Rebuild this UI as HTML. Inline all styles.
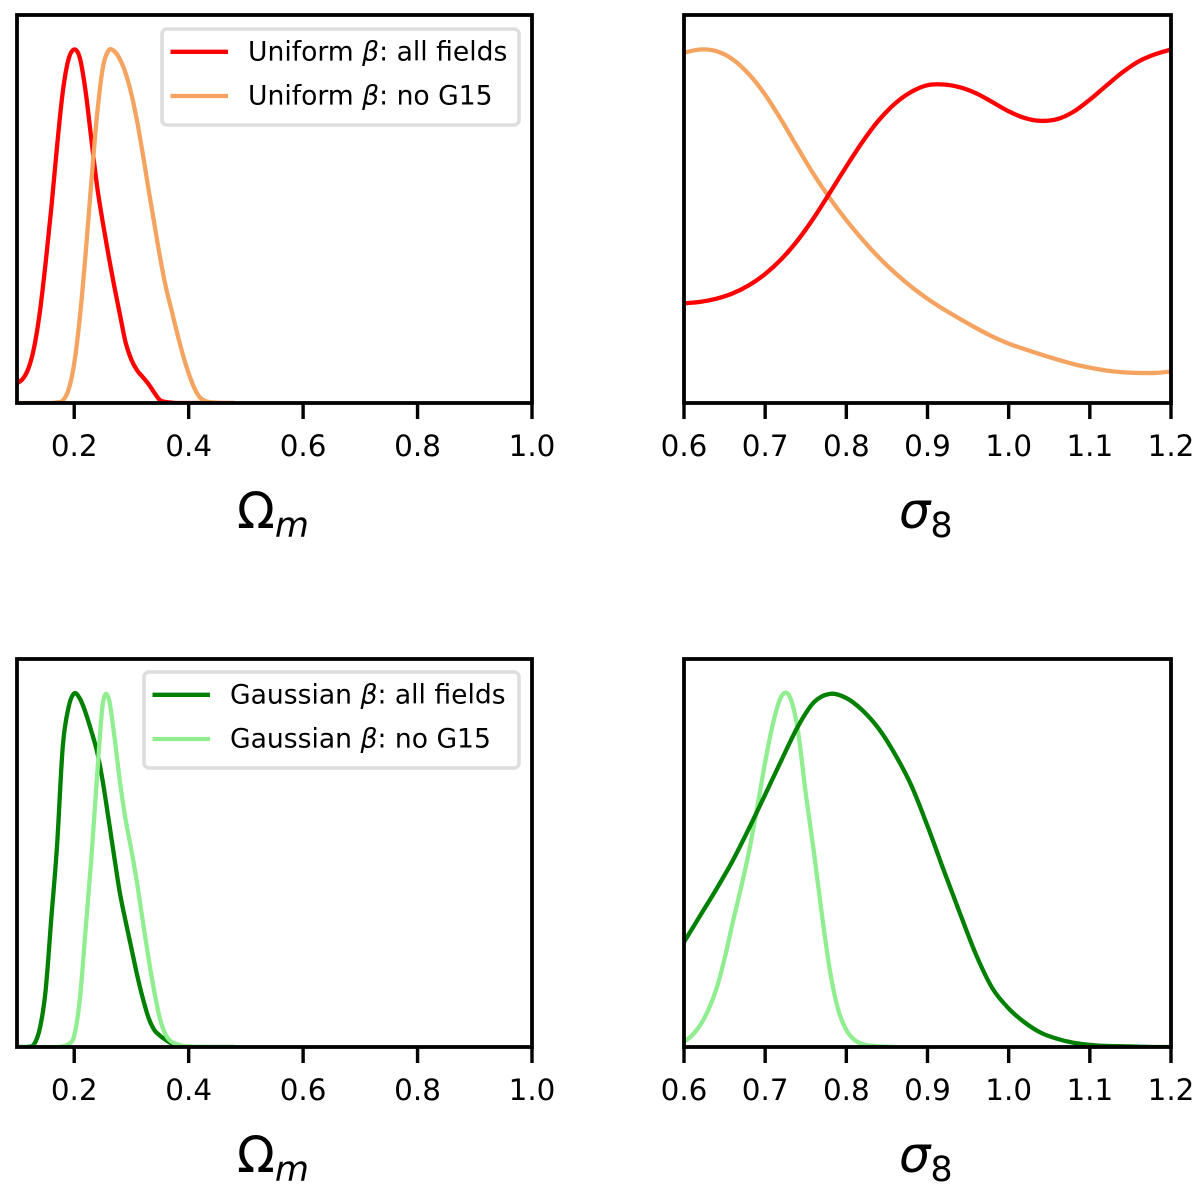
<!DOCTYPE html>
<html lang="en">
<head>
<meta charset="utf-8">
<title>Posterior distributions</title>
<style>
html,body{margin:0;padding:0;background:#fff;}
svg{display:block;}
text{font-family:"DejaVu Sans","Liberation Sans",sans-serif;fill:#000;}
.tick{font-size:29.4px;text-anchor:middle;}
.leg{font-size:26.6px;}
.ax{font-size:49.5px;}
.it{font-style:italic;}
</style>
</head>
<body>
<svg id="fig" xmlns="http://www.w3.org/2000/svg" width="1200" height="1184" viewBox="0 0 1200 1184">
  <rect width="1200" height="1184" fill="#fff"/>
  <text class="ax" x="237" y="528">Ω<tspan class="it" font-size="35" dy="9">m</tspan></text>
  <text class="ax" x="899" y="528"><tspan class="it">σ</tspan><tspan font-size="35" dy="9">8</tspan></text>
  <text class="ax" x="237" y="1172">Ω<tspan class="it" font-size="35" dy="9">m</tspan></text>
  <text class="ax" x="899" y="1172"><tspan class="it">σ</tspan><tspan font-size="35" dy="9">8</tspan></text>
</svg>
<script>
// ---- Data (x grids and normalised densities) ----
const omegaGrid = [0.10,0.11,0.12,0.13,0.14,0.15,0.16,0.17,0.18,0.19,0.20,0.21,0.22,0.23,0.24,0.25,0.26,0.27,0.28,0.29,0.30,0.31,0.32,0.33,0.34,0.35,0.36,0.37,0.38,0.39,0.40,0.41,0.42,0.43,0.44,0.45,0.46,0.47,0.48];
const sigmaGrid = [0.60,0.62,0.64,0.66,0.68,0.70,0.72,0.74,0.76,0.78,0.80,0.82,0.84,0.86,0.88,0.90,0.92,0.94,0.96,0.98,1.00,1.02,1.04,1.06,1.08,1.10,1.12,1.14,1.16,1.18,1.20];
const sigmaFineGrid = [0.60,0.61,0.62,0.63,0.64,0.65,0.66,0.67,0.68,0.69,0.70,0.71,0.72,0.73,0.74,0.75,0.76,0.77,0.78,0.79,0.80,0.81,0.82,0.83,0.84,0.85,0.86];

const uniformAllOmega = [0.056,0.068,0.098,0.158,0.258,0.396,0.552,0.726,0.880,0.972,1.000,0.975,0.880,0.745,0.613,0.510,0.417,0.330,0.249,0.170,0.122,0.092,0.073,0.053,0.029,0.008,0.003,0.001,0,0,0,0,0,0,0,0,0,0,0];
const uniformNoG15Omega = [0,0,0,0,0,0,0,0.002,0.007,0.037,0.112,0.245,0.424,0.627,0.816,0.948,0.997,0.995,0.972,0.932,0.873,0.796,0.703,0.603,0.507,0.412,0.329,0.263,0.197,0.136,0.084,0.042,0.015,0.005,0.002,0.001,0,0,0];
const gaussAllOmega = [0,0,0.001,0.008,0.053,0.160,0.365,0.570,0.850,0.960,1.000,0.985,0.945,0.893,0.835,0.750,0.645,0.537,0.434,0.354,0.279,0.203,0.137,0.082,0.048,0.032,0.020,0.010,0.005,0.002,0.001,0.001,0,0,0,0,0,0,0];
const gaussNoG15Omega = [0,0,0,0,0,0,0,0,0.002,0.008,0.032,0.138,0.335,0.535,0.768,0.971,0.987,0.881,0.749,0.641,0.556,0.462,0.354,0.250,0.156,0.079,0.034,0.015,0.008,0.003,0.002,0.001,0.001,0,0,0,0,0,0];

const uniformAllSigma = [0.282,0.286,0.295,0.310,0.333,0.365,0.407,0.460,0.524,0.596,0.669,0.739,0.800,0.847,0.880,0.899,0.901,0.893,0.876,0.851,0.825,0.806,0.798,0.803,0.824,0.858,0.897,0.935,0.966,0.986,1.000];
const uniformNoG15Sigma = [0.991,1.000,0.995,0.972,0.930,0.872,0.800,0.722,0.646,0.578,0.517,0.462,0.412,0.368,0.329,0.295,0.265,0.238,0.212,0.188,0.168,0.152,0.137,0.123,0.110,0.100,0.092,0.087,0.085,0.085,0.089];
const gaussAllSigma = [0.297,0.372,0.447,0.527,0.618,0.714,0.811,0.905,0.975,0.999,0.987,0.952,0.900,0.828,0.740,0.625,0.500,0.378,0.260,0.166,0.109,0.069,0.040,0.023,0.012,0.006,0.003,0.002,0.001,0,0];
const gaussNoG15Sigma = [0.015,0.033,0.062,0.105,0.165,0.250,0.352,0.448,0.552,0.675,0.806,0.919,0.992,0.992,0.900,0.717,0.552,0.373,0.213,0.105,0.048,0.020,0.008,0.004,0.002,0.001,0];

const omegaTicks = [0.2,0.4,0.6,0.8,1.0];
const sigmaTicks = [0.6,0.7,0.8,0.9,1.0,1.1,1.2];
const omegaDomain = [0.1,1.0];
const sigmaDomain = [0.6,1.2];
const densityDomain = [0,1.0975];

// ---- Drawing ----
const SVGNS = 'http://www.w3.org/2000/svg';
const fig = document.getElementById('fig');
function el(tag, parent){
  const e = document.createElementNS(SVGNS, tag);
  parent.appendChild(e);
  return e;
}
function scale(domain, range){
  return v => range[0] + (v - domain[0]) * (range[1] - range[0]) / (domain[1] - domain[0]);
}
function smoothPath(xs, ys, sx, sy){
  const p = xs.map((x,i) => [sx(x), sy(ys[i])]);
  let d = 'M' + p[0][0].toFixed(2) + ' ' + p[0][1].toFixed(2);
  for(let i = 0; i < p.length - 1; i++){
    const a = p[Math.max(i-1,0)], b = p[i], c = p[i+1], e = p[Math.min(i+2,p.length-1)];
    d += 'C' + (b[0]+(c[0]-a[0])/6).toFixed(2) + ' ' + (b[1]+(c[1]-a[1])/6).toFixed(2) + ' ' +
         (c[0]-(e[0]-b[0])/6).toFixed(2) + ' ' + (c[1]-(e[1]-b[1])/6).toFixed(2) + ' ' +
         c[0].toFixed(2) + ' ' + c[1].toFixed(2);
  }
  return d;
}
function drawPanel(cfg){
  const g = el('g', fig);
  
  
  const sx = scale(cfg.domain, [cfg.left, cfg.right]);
  const sy = scale(densityDomain, [cfg.bottom, cfg.top]);

  const clip = el('clipPath', g);
  clip.setAttribute('id', cfg.name + '-clip');
  const cr = el('rect', clip);
  cr.setAttribute('x', cfg.left);
  cr.setAttribute('y', cfg.top);
  cr.setAttribute('width', cfg.right - cfg.left);
  cr.setAttribute('height', cfg.bottom - cfg.top);

  cfg.series.forEach(s => {
    const line = el('path', g);
    
    
    line.setAttribute('d', smoothPath(s.x, s.y, sx, sy));
    line.setAttribute('fill', 'none');
    line.setAttribute('stroke', s.color);
    line.setAttribute('stroke-width', '4.3');
    line.setAttribute('stroke-linejoin', 'round');
    line.setAttribute('clip-path', 'url(#' + cfg.name + '-clip)');
  });

  cfg.ticks.forEach(t => {
    const x = sx(t);
    const tick = el('line', g);
    
    
    tick.setAttribute('x1', x);
    tick.setAttribute('x2', x);
    tick.setAttribute('y1', cfg.bottom);
    tick.setAttribute('y2', cfg.bottom + 16);
    tick.setAttribute('stroke', '#000');
    tick.setAttribute('stroke-width', '3.4');
    const label = el('text', g);
    
    
    label.setAttribute('class', 'tick');
    label.setAttribute('x', x);
    label.setAttribute('y', cfg.bottom + 53);
    label.textContent = t.toFixed(1);
  });

  const frame = el('rect', g);
  
  
  frame.setAttribute('x', cfg.left);
  frame.setAttribute('y', cfg.top);
  frame.setAttribute('width', cfg.right - cfg.left);
  frame.setAttribute('height', cfg.bottom - cfg.top);
  frame.setAttribute('fill', 'none');
  frame.setAttribute('stroke', '#000');
  frame.setAttribute('stroke-width', '3.8');

  if(cfg.legend){
    const L = cfg.legend;
    const lg = el('g', g);
    
    
    const box = el('rect', lg);
    
    
    box.setAttribute('x', L.x);
    box.setAttribute('y', L.y);
    box.setAttribute('width', L.w);
    box.setAttribute('height', L.h);
    box.setAttribute('rx', '5');
    box.setAttribute('fill', '#fff');
    box.setAttribute('fill-opacity', '0.8');
    box.setAttribute('stroke', '#dedede');
    box.setAttribute('stroke-width', '3.6');
    cfg.series.forEach((s, i) => {
      const yy = L.y + 22.8 + i * 44.2;
      const sw = el('line', lg);
      
      
      sw.setAttribute('x1', L.x + 8.5);
      sw.setAttribute('x2', L.x + 66);
      sw.setAttribute('y1', yy);
      sw.setAttribute('y2', yy);
      sw.setAttribute('stroke', s.color);
      sw.setAttribute('stroke-width', '4.3');
      const txt = el('text', lg);
      
      
      txt.setAttribute('class', 'leg');
      txt.setAttribute('x', L.x + 86);
      txt.setAttribute('y', yy + 8.5);
      const a = el('tspan', txt);
      a.textContent = L.prefix + ' ';
      const b = el('tspan', txt);
      b.setAttribute('class', 'it');
      b.textContent = 'β';
      const c = el('tspan', txt);
      c.textContent = ': ' + s.label;
    });
  }
}

drawPanel({
  name:'panel-omega-uniform', left:17, right:532, top:15, bottom:403,
  domain:omegaDomain, ticks:omegaTicks,
  series:[
    {name:'uniform-all-fields-line', label:'all fields', color:'#ff0000', x:omegaGrid, y:uniformAllOmega},
    {name:'uniform-no-g15-line', label:'no G15', color:'#f4a460', x:omegaGrid, y:uniformNoG15Omega}
  ],
  legend:{x:162, y:29, w:357, h:96, prefix:'Uniform'}
});
drawPanel({
  name:'panel-sigma-uniform', left:684, right:1171, top:15, bottom:403,
  domain:sigmaDomain, ticks:sigmaTicks,
  series:[
    {name:'uniform-no-g15-line', color:'#f4a460', x:sigmaGrid, y:uniformNoG15Sigma},
    {name:'uniform-all-fields-line', color:'#ff0000', x:sigmaGrid, y:uniformAllSigma}
  ]
});
drawPanel({
  name:'panel-omega-gaussian', left:17, right:532, top:659, bottom:1047,
  domain:omegaDomain, ticks:omegaTicks,
  series:[
    {name:'gaussian-all-fields-line', label:'all fields', color:'#008000', x:omegaGrid, y:gaussAllOmega},
    {name:'gaussian-no-g15-line', label:'no G15', color:'#90ee90', x:omegaGrid, y:gaussNoG15Omega}
  ],
  legend:{x:144, y:672, w:375, h:96, prefix:'Gaussian'}
});
drawPanel({
  name:'panel-sigma-gaussian', left:684, right:1171, top:659, bottom:1047,
  domain:sigmaDomain, ticks:sigmaTicks,
  series:[
    {name:'gaussian-no-g15-line', color:'#90ee90', x:sigmaFineGrid, y:gaussNoG15Sigma},
    {name:'gaussian-all-fields-line', color:'#008000', x:sigmaGrid, y:gaussAllSigma}
  ]
});
</script>
</body>
</html>
